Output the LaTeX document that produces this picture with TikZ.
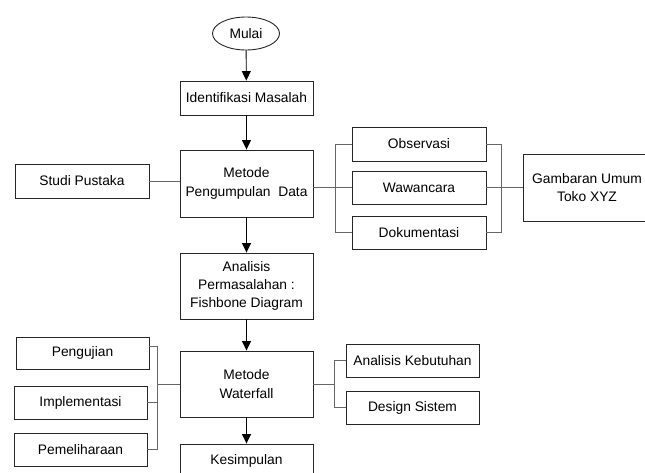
\documentclass[tikz,border=0pt]{standalone}
\usepackage{fontspec}
\setmainfont{Liberation Sans}
\usetikzlibrary{shapes.geometric,arrows.meta,calc}
\tikzset{
  box/.style={draw=black!85, line width=0.9pt, fill=white, align=center,
    inner sep=0pt, font=\fontsize{13.8}{18.3}\selectfont},
  flow/.style={draw=black, line width=0.9pt, -{Triangle[width=9pt,length=9.5pt]}},
  link/.style={draw=black!60, line width=0.9pt},
}
\begin{document}
\begin{tikzpicture}[x=1pt,y=-1pt]
  \clip (0,0) rectangle (645,472);
  \fill[white] (0,0) rectangle (645,472);

  % main column
  \node[box, ellipse, minimum width=67pt, minimum height=33pt] (mulai) at (246,33.5) {Mulai};
  \node[box, minimum width=133pt, minimum height=34pt] (ident) at (246.5,98) {Identifikasi Masalah};
  \node[box, minimum width=133pt, minimum height=67pt] (mpd) at (246.5,183.5) {Metode\\Pengumpulan\ \ Data};
  \node[box, minimum width=133pt, minimum height=66pt] (anal) at (246.5,286) {Analisis\\Permasalahan :\\Fishbone Diagram};
  \node[box, minimum width=133pt, minimum height=66pt] (mw) at (246.5,384) {Metode\\Waterfall};
  \node[box, minimum width=133pt, minimum height=34pt] (kes) at (246.5,461) {Kesimpulan};

  % data collection branch
  \node[box, minimum width=134pt, minimum height=34pt] (studi) at (82,181) {Studi Pustaka};
  \node[box, minimum width=134pt, minimum height=34pt] (obs) at (419,144) {Observasi};
  \node[box, minimum width=134pt, minimum height=33pt] (waw) at (419,187.5) {Wawancara};
  \node[box, minimum width=134pt, minimum height=33pt] (dok) at (419,232.5) {Dokumentasi};
  \node[box, minimum width=128pt, minimum height=67pt] (gamb) at (587,187.5) {Gambaran Umum\\Toko XYZ};

  % waterfall stages
  \node[box, minimum width=133pt, minimum height=32pt] (peng) at (82.5,353) {Pengujian};
  \node[box, minimum width=133pt, minimum height=33pt] (impl) at (80.5,402.5) {Implementasi};
  \node[box, minimum width=133pt, minimum height=33pt] (pem) at (80.5,449.5) {Pemeliharaan};
  \node[box, minimum width=133pt, minimum height=33pt] (ak) at (412.5,360.5) {Analisis Kebutuhan};
  \node[box, minimum width=133pt, minimum height=33pt] (ds) at (412.5,407.5) {Design Sistem};

  % bracket joints
  \coordinate (lb) at (335,0);
  \coordinate (rb) at (501,0);
  \coordinate (wl) at (157,0);
  \coordinate (wr) at (334,0);

  % flow arrows
  \draw[flow] (mulai) -- (ident);
  \draw[flow] (ident) -- (mpd);
  \draw[flow] (mpd) -- (anal);
  \draw[flow] (anal) -- (mw);
  \draw[flow] (mw) -- (kes);

  % data collection links
  \draw[link] (studi.east) -- (studi.east -| mpd.west);
  \draw[link] (mpd.east |- waw.west) -- (waw.west);
  \draw[link] (obs.west) -- (obs.west -| lb) -- (dok.west -| lb) -- (dok.west);
  \draw[link] (obs.east) -- (obs.east -| rb) -- (dok.east -| rb) -- (dok.east);
  \draw[link] (waw.east) -- (gamb.west |- waw.east);

  % waterfall links
  \coordinate (pj) at ($(peng.north east)!0.3!(peng.south east)$);
  \draw[link] (pj) -- (pj -| wl) -- (pem.east -| wl) -- (pem.east);
  \draw[link] (impl.east) -- (impl.east -| wl);
  \draw[link] (mw.west -| wl) -- (mw.west);
  \draw[link] (mw.east) -- (mw.east -| wr);
  \draw[link] (ak.west) -- (ak.west -| wr) -- (ds.west -| wr) -- (ds.west);
\end{tikzpicture}
\end{document}
